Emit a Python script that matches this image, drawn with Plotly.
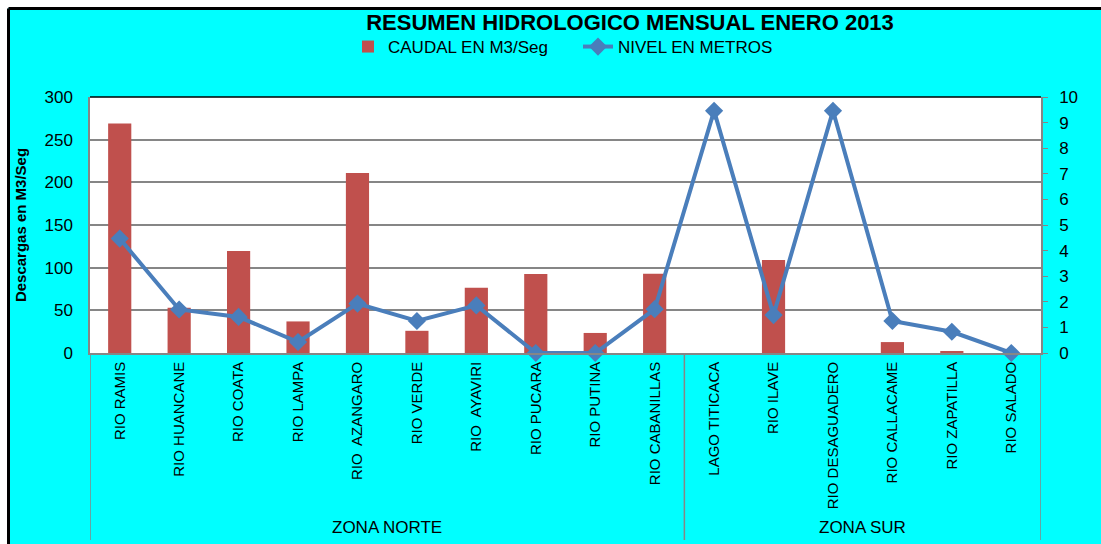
import plotly.graph_objects as go

categories = ["RIO RAMIS", "RIO HUANCANE", "RIO COATA", "RIO LAMPA", "RIO  AZANGARO",
              "RIO VERDE", "RIO  AYAVIRI", "RIO PUCARA", "RIO PUTINA", "RIO CABANILLAS",
              "LAGO TITICACA", "RIO ILAVE", "RIO DESAGUADERO", "RIO CALLACAME",
              "RIO ZAPATILLA", "RIO SALADO"]
caudal = [269, 53, 119.5, 37, 211, 26, 76.5, 92.5, 23.5, 92.8, 0, 109, 0, 12.8, 2, 0]
nivel = [4.47, 1.70, 1.41, 0.43, 1.93, 1.25, 1.86, 0, 0, 1.71, 9.46, 1.48, 9.46, 1.25, 0.83, 0]
zones = ["ZONA NORTE", "ZONA SUR"]
zone_sizes = [10, 6]
left_ticks = [0, 50, 100, 150, 200, 250, 300]
right_ticks = [0, 1, 2, 3, 4, 5, 6, 7, 8, 9, 10]

W, H = 1101, 544
ML, MR, MT, MB = 90, 60, 97, 191
PW, PH = W - ML - MR, H - MT - MB
FONT = "Liberation Sans, Arial, sans-serif"
GRAY = "#868686"


def px_x(p):
    return (p - ML) / PW


def px_y(q):
    return (H - MB - q) / PH


fig = go.Figure()
fig.add_trace(go.Bar(
    x=categories, y=caudal, name="CAUDAL EN M3/Seg",
    marker=dict(color="#C0504D", line=dict(width=0)),
    yaxis="y",
))
fig.add_trace(go.Scatter(
    x=categories, y=nivel, name="NIVEL EN METROS", mode="lines+markers",
    line=dict(color="#4A7EBB", width=4),
    marker=dict(symbol="diamond", size=14, color="#4A7EBB"),
    yaxis="y2", cliponaxis=False,
))

shapes = []
# outer white strip and black border
shapes.append(dict(type="rect", xref="paper", yref="paper", x0=px_x(-5), x1=px_x(W + 5),
                   y0=px_y(8), y1=px_y(-5), fillcolor="white", line=dict(width=0), layer="below"))
shapes.append(dict(type="rect", xref="paper", yref="paper", x0=px_x(-5), x1=px_x(8),
                   y0=px_y(H + 5), y1=px_y(-5), fillcolor="white", line=dict(width=0), layer="below"))
shapes.append(dict(type="line", xref="paper", yref="paper", x0=px_x(8.5), x1=px_x(W + 5),
                   y0=px_y(8.5), y1=px_y(8.5), line=dict(color="black", width=3)))
shapes.append(dict(type="line", xref="paper", yref="paper", x0=px_x(8.5), x1=px_x(8.5),
                   y0=px_y(8.5), y1=px_y(H + 5), line=dict(color="black", width=3)))
# top border of plot area
shapes.append(dict(type="line", xref="paper", yref="paper", x0=0, x1=1, y0=1, y1=1,
                   line=dict(color="black", width=1.5)))
# group dividers
bounds = [-0.5]
for s in zone_sizes:
    bounds.append(bounds[-1] + s)
for b in bounds:
    shapes.append(dict(type="line", xref="x", yref="paper", x0=b, x1=b, y0=0, y1=px_y(540),
                       line=dict(color=GRAY, width=1.5)))

annotations = []
for i, z in enumerate(zones):
    annotations.append(dict(text=z, xref="x", yref="paper", x=(bounds[i] + bounds[i + 1]) / 2,
                            y=px_y(527), showarrow=False, xanchor="center", yanchor="middle",
                            font=dict(family=FONT, size=17, color="black")))

fig.update_layout(
    width=W, height=H,
    margin=dict(l=ML, r=MR, t=MT, b=MB),
    paper_bgcolor="#00FFFF", plot_bgcolor="white",
    font=dict(family=FONT, color="black"),
    title=dict(text="<b>RESUMEN HIDROLOGICO MENSUAL ENERO 2013</b>", x=630 / W, xanchor="center",
               xref="container", y=1 - 22 / H, yref="container", yanchor="middle",
               font=dict(family=FONT, size=22, color="black")),
    bargap=0.61,
    showlegend=True,
    legend=dict(orientation="h", x=px_x(348), xanchor="left", y=px_y(47), yanchor="middle",
                bgcolor="rgba(0,0,0,0)", font=dict(family=FONT, size=17, color="black"),
                entrywidth=185, entrywidthmode="pixels", traceorder="normal"),
    xaxis=dict(type="category", tickangle=-90, showline=True, linecolor=GRAY, linewidth=1.5,
               showgrid=False, ticks="outside", ticklen=1, tickcolor="rgba(0,0,0,0)",
               tickfont=dict(family=FONT, size=15, color="black"), range=[-0.5, 15.5]),
    yaxis=dict(range=[0, 300], tickvals=left_ticks, showgrid=True, gridcolor=GRAY, gridwidth=1.6,
               showline=True, linecolor=GRAY, linewidth=1.5, zeroline=False,
               ticks="outside", ticklen=12, tickcolor="rgba(0,0,0,0)",
               tickfont=dict(family=FONT, size=17, color="black"),
               title=dict(text="<b>Descargas en M3/Seg</b>", standoff=14,
                          font=dict(family=FONT, size=15, color="black"))),
    yaxis2=dict(range=[0, 10], tickvals=right_ticks, overlaying="y", side="right",
                showgrid=False, showline=True, linecolor=GRAY, linewidth=1.5, zeroline=False,
                ticks="outside", ticklen=5, tickcolor=GRAY, ticklabelstandoff=8,
                tickfont=dict(family=FONT, size=17, color="black")),
    shapes=shapes,
    annotations=annotations,
)

fig.write_html("out.html", config={"displayModeBar": False},
               post_script="document.body.style.margin='0';document.body.style.overflow='hidden';")
